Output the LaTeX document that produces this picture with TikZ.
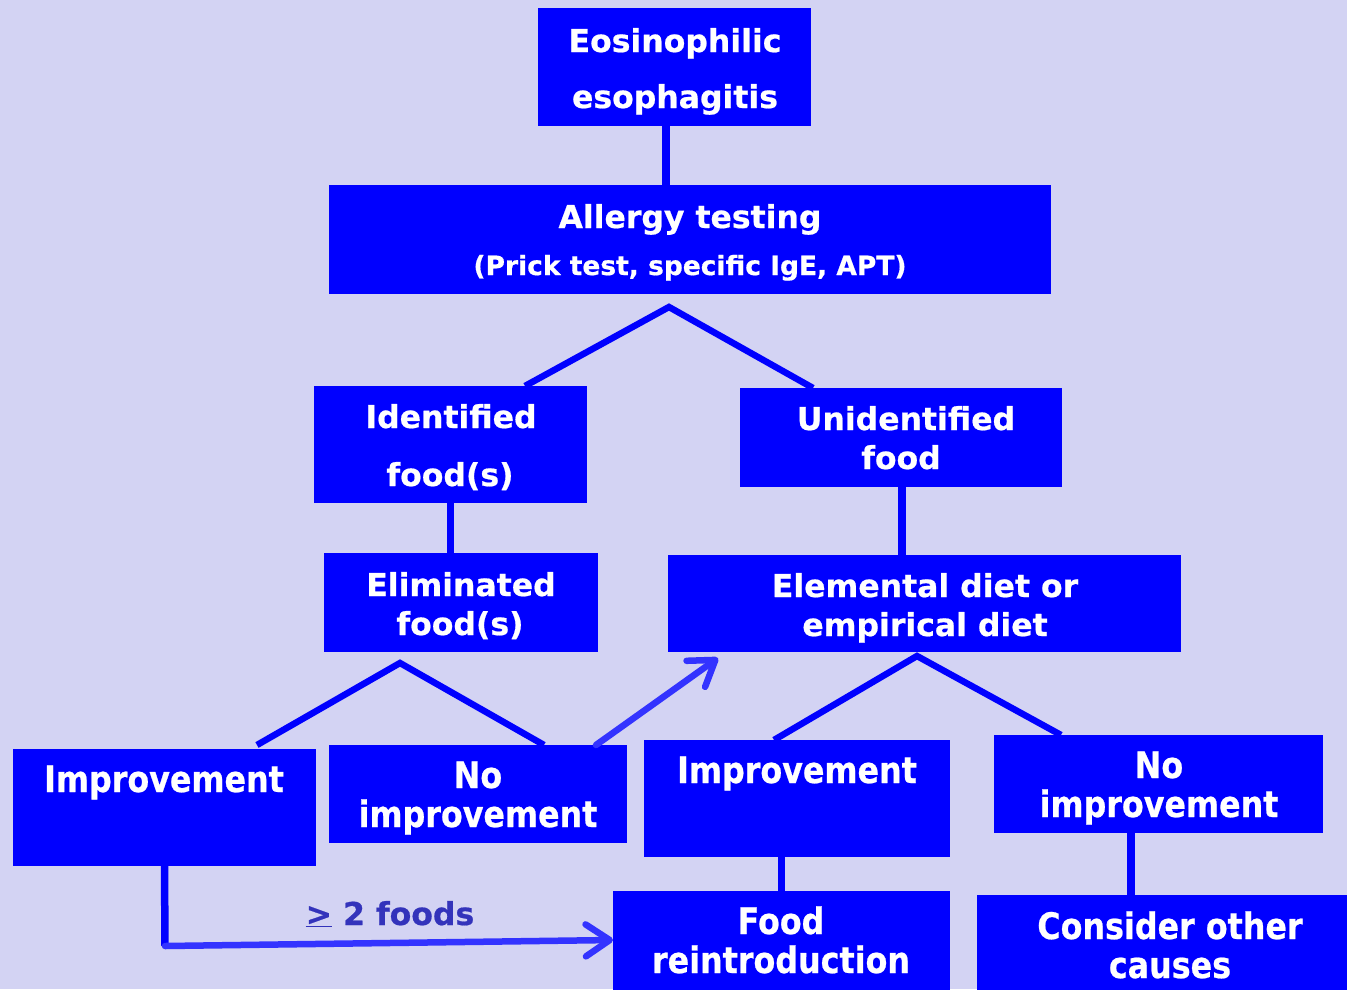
\documentclass[tikz,border=0pt]{standalone}
\usepackage{fontspec}
\setmainfont{DejaVu Sans}[BoldFeatures={FakeBold=0.6}]
\newfontfamily\condfont{DejaVu Sans}[FakeStretch=0.87,BoldFeatures={FakeBold=0.6}]
\usetikzlibrary{arrows.meta,calc}
\definecolor{bgc}{HTML}{D3D3F3}
\definecolor{boxc}{HTML}{0000FF}
\definecolor{arrc}{HTML}{3333FF}
\definecolor{labc}{HTML}{3333BB}
\tikzset{
  box/.style={fill=boxc, draw=none, inner sep=0pt, outer sep=0pt},
  txt/.style={text=white, inner sep=0pt, anchor=base, font=\fontsize{31.5}{38}\selectfont\bfseries},
  stxt/.style={text=white, inner sep=0pt, anchor=base, font=\fontsize{26.5}{32}\selectfont\bfseries},
  ctxt/.style={text=white, inner sep=0pt, anchor=base, font=\condfont\fontsize{36.5}{42}\selectfont\bfseries},
  conn/.style={draw=boxc, line width=7.5pt},
  vline/.style={draw=boxc, line width=6.5pt},
  arr/.style={draw=arrc, line width=6.5pt, line cap=round, -{Straight Barb[length=24pt,width=32pt,round]}},
}
\begin{document}
\begin{tikzpicture}[x=1pt,y=-1pt]
\fill[bgc] (0,0) rectangle (1347,989);
\useasboundingbox (0,0) rectangle (1347,989);

% boxes
\node[box, minimum width=273pt, minimum height=118pt] (eos) at (674.5,67) {};
\node[box, minimum width=722pt, minimum height=109pt] (allergy) at (690,239.5) {};
\node[box, minimum width=273pt, minimum height=117pt] (ident) at (450.5,444.5) {};
\node[box, minimum width=322pt, minimum height=99pt] (unident) at (901,437.5) {};
\node[box, minimum width=274pt, minimum height=99pt] (elim) at (461,602.5) {};
\node[box, minimum width=513pt, minimum height=97pt] (elem) at (924.5,603.5) {};
\node[box, minimum width=303pt, minimum height=117pt] (impL) at (164.5,807.5) {};
\node[box, minimum width=298pt, minimum height=98pt] (noimpL) at (478,794) {};
\node[box, minimum width=306pt, minimum height=117pt] (impM) at (797,798.5) {};
\node[box, minimum width=329pt, minimum height=98pt] (noimpR) at (1158.5,784) {};
\node[box, minimum width=337pt, minimum height=104pt] (food) at (781.5,943) {};
\node[box, minimum width=373pt, minimum height=100pt] (consider) at (1163.5,945) {};

% texts
\node[txt] (eosA) at (675,52) {Eosinophilic};
\node[txt] (eosB) at (675,108) {esophagitis};
\node[txt] (allA) at (690,228) {Allergy testing};
\node[stxt] (allB) at (690,275) {(Prick test, specific IgE, APT)};
\node[txt] (idA) at (451,428) {Identified};
\node[txt] (idB) at (450,486) {food(s)};
\node[txt] (unA) at (906,430) {Unidentified};
\node[txt] (unB) at (901,469) {food};
\node[txt] (elA) at (461,596) {Eliminated};
\node[txt] (elB) at (460,635) {food(s)};
\node[txt] (emA) at (925,597) {Elemental diet or};
\node[txt] (emB) at (925,636) {empirical diet};
\node[ctxt] (impLA) at (164,792) {Improvement};
\node[ctxt] (nlA) at (478,788) {No};
\node[ctxt] (nlB) at (478,827) {improvement};
\node[ctxt] (impMA) at (797,783) {Improvement};
\node[ctxt] (nrA) at (1159,778) {No};
\node[ctxt] (nrB) at (1159,817) {improvement};
\node[ctxt] (foA) at (781,934) {Food};
\node[ctxt] (foB) at (781,973) {reintroduction};
\node[ctxt] (coA) at (1170,939) {Consider other};
\node[ctxt] (coB) at (1170,978) {causes};
\node[text=labc, inner sep=0pt, anchor=base, font=\fontsize{31.5}{38}\selectfont\bfseries] (lab) at (390,925) {\underline{>} 2 foods};

% connectors
\path[conn] ([xshift=-8.5pt]eos.south) -- ([xshift=-8.5pt]eos.south |- allergy.north);
\coordinate (ap1) at (669,307);
\path[vline] ([xshift=74.5pt]ident.north) -- (ap1) -- ([xshift=-88pt]unident.north);
\path[conn] (ident.south) -- (ident.south |- elim.north);
\path[conn] ([xshift=1pt]unident.south) -- ([xshift=1pt]unident.south |- elem.north);
\coordinate (ap2) at (400,663);
\path[vline] ([xshift=92.5pt,yshift=4pt]impL.north) -- (ap2) -- ([xshift=66pt]noimpL.north);
\coordinate (ap3) at (917,656);
\path[vline] ([xshift=-23pt]impM.north) -- (ap3) -- ([xshift=-97.5pt]noimpR.north);
\draw[arr] ([xshift=118pt]noimpL.north) -- ([xshift=-206.5pt,yshift=-6pt]elem.south);
\path[conn] (food.north |- impM.south) -- (food.north);
\path[conn] ([xshift=-27.5pt]noimpR.south) -- ([xshift=-27.5pt]noimpR.south |- consider.north);
\coordinate (corner) at (165,946);
\path[conn] (impL.south) -- (corner);
\draw[arr] (corner) -- ([yshift=3pt]food.west);
\end{tikzpicture}
\end{document}
